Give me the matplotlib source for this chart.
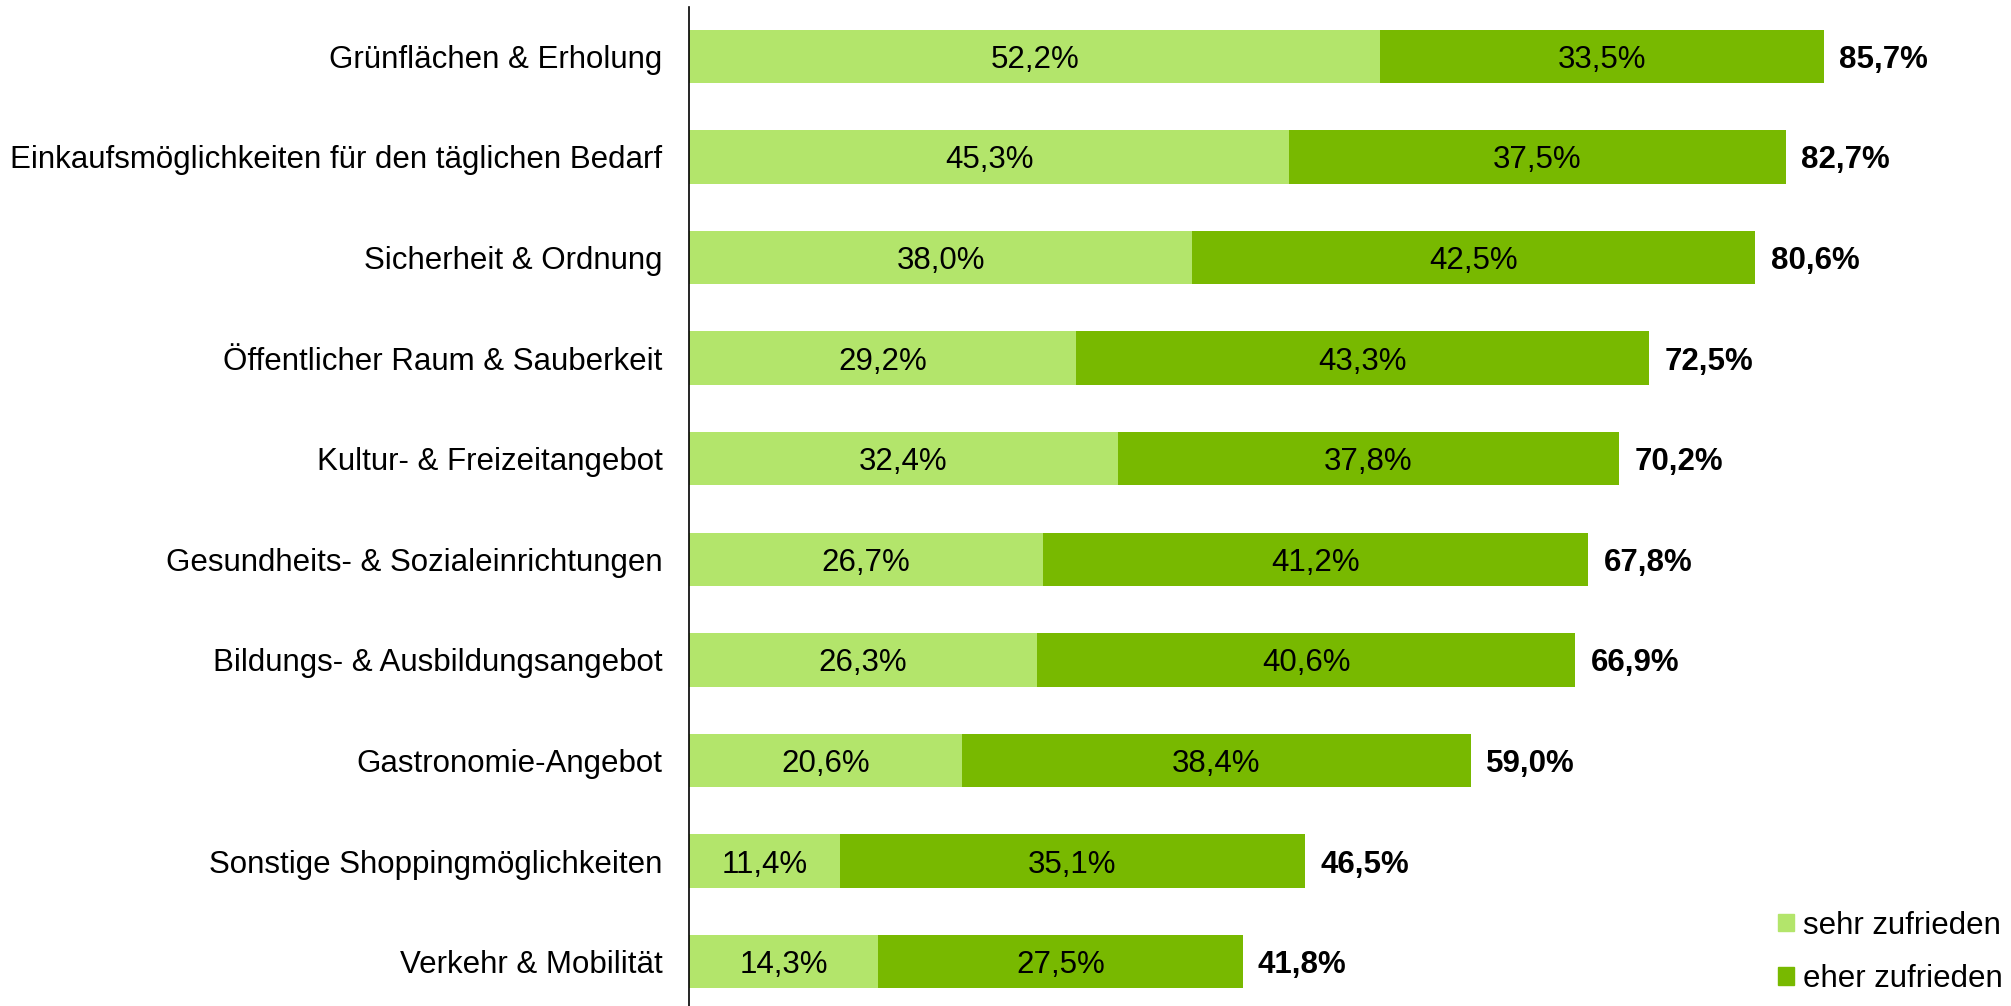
import matplotlib.pyplot as plt
from matplotlib.patches import Patch

plt.rcParams['font.family'] = ['Liberation Sans', 'DejaVu Sans']

# Daten
kategorien = ['Grünflächen & Erholung',
              'Einkaufsmöglichkeiten für den täglichen Bedarf',
              'Sicherheit & Ordnung',
              'Öffentlicher Raum & Sauberkeit',
              'Kultur- & Freizeitangebot',
              'Gesundheits- & Sozialeinrichtungen',
              'Bildungs- & Ausbildungsangebot',
              'Gastronomie-Angebot',
              'Sonstige Shoppingmöglichkeiten',
              'Verkehr & Mobilität']
sehr_zufrieden = [52.2, 45.3, 38.0, 29.2, 32.4, 26.7, 26.3, 20.6, 11.4, 14.3]
eher_zufrieden = [33.5, 37.5, 42.5, 43.3, 37.8, 41.2, 40.6, 38.4, 35.1, 27.5]
gesamt = [85.7, 82.7, 80.6, 72.5, 70.2, 67.8, 66.9, 59.0, 46.5, 41.8]

hell = '#B3E56B'
dunkel = '#78B900'
fs = 22.5

fig = plt.figure(figsize=(20.11, 10.06), dpi=100)
ax = fig.add_axes([0.3426, 0.0, 0.6574, 0.993])

y = list(range(len(kategorien)))
h = 0.53
ax.barh(y, sehr_zufrieden, height=h, color=hell, label='sehr zufrieden')
ax.barh(y, eher_zufrieden, left=sehr_zufrieden, height=h, color=dunkel, label='eher zufrieden')

# Beschriftungen
for i in y:
    s, e = sehr_zufrieden[i], eher_zufrieden[i]
    ax.text(s / 2, i, f'{s:.1f}%'.replace('.', ','), ha='center', va='center_baseline', fontsize=fs)
    ax.text(s + e / 2, i, f'{e:.1f}%'.replace('.', ','), ha='center', va='center_baseline', fontsize=fs)
    ax.annotate(f'{gesamt[i]:.1f}%'.replace('.', ','), (s + e, i), xytext=(11, 0),
                textcoords='offset points', ha='left', va='center_baseline',
                fontsize=fs, fontweight='bold')

ax.set_xlim(0, 99.8)
ax.set_ylim(9.44, -0.49)
ax.set_yticks(y)
ax.set_yticklabels(kategorien, fontsize=fs)
ax.tick_params(axis='y', length=0, pad=19)
ax.set_xticks([])
for side in ['top', 'right', 'bottom']:
    ax.spines[side].set_visible(False)
ax.spines['left'].set_linewidth(1.2)

handles = [Patch(color=hell, label='sehr zufrieden'),
           Patch(color=dunkel, label='eher zufrieden')]
fig.legend(handles=handles, loc='lower right', bbox_to_anchor=(1.01, -0.016),
           frameon=False, fontsize=fs, handlelength=0.5, handleheight=0.5,
           handletextpad=0.3, labelspacing=0.75)

fig.savefig('out.png', dpi=100)
